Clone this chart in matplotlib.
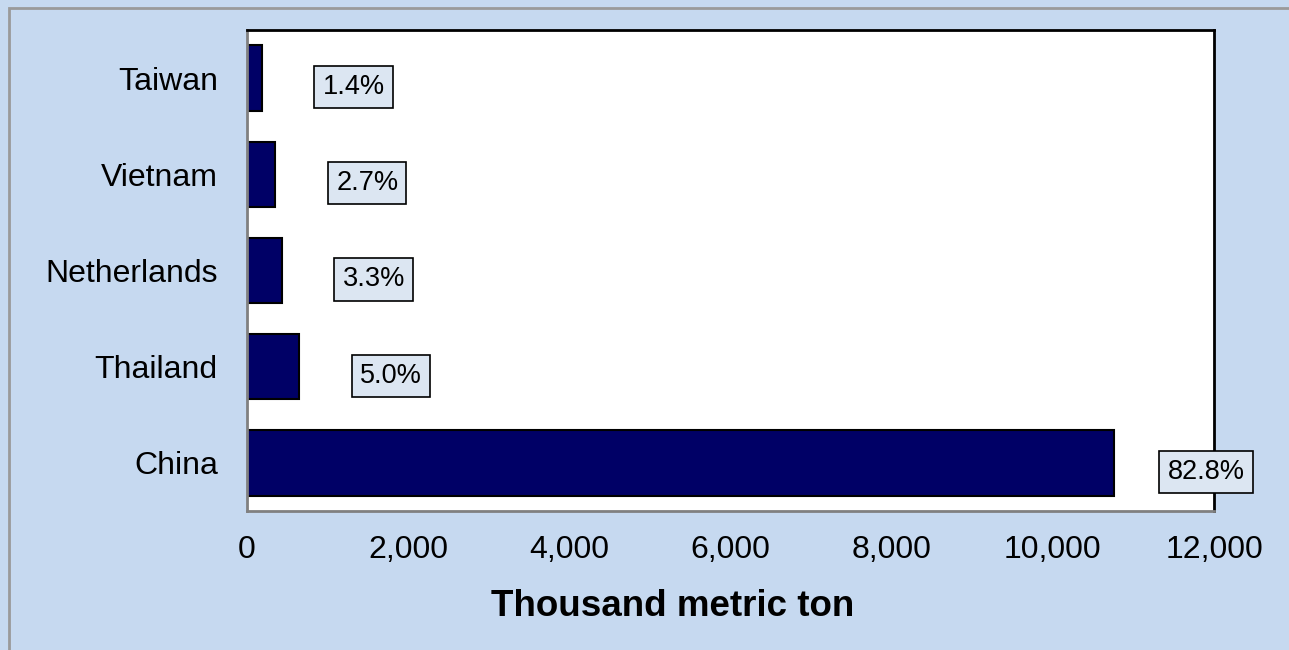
import matplotlib.pyplot as plt
from matplotlib.patches import Rectangle
from matplotlib.ticker import FuncFormatter

# data, bottom to top
countries = ["China", "Thailand", "Netherlands", "Vietnam", "Taiwan"]
volumes = [10760, 650, 430, 350, 180]
shares = ["82.8%", "5.0%", "3.3%", "2.7%", "1.4%"]
x_ticks = [0, 2000, 4000, 6000, 8000, 10000, 12000]

plt.rcParams['font.family'] = ['Liberation Sans', 'DejaVu Sans']

bg = "#C6D9F0"
fig = plt.figure(figsize=(12.89, 6.5), dpi=100)
fig.patch.set_facecolor(bg)

# grey frame round the chart area (only top/left edges show in the picture)
fig.patches.append(Rectangle((9 / 1289, -0.1), 1.2, (650 - 8) / 650 + 0.1,
                             transform=fig.transFigure, fill=False,
                             edgecolor="#9a9a9a", linewidth=2))

ax = fig.add_axes([247 / 1289, (650 - 511) / 650, 967 / 1289, 481 / 650])
ax.set_facecolor("white")

ypos = list(range(len(countries)))
ax.barh(ypos, volumes, height=0.68, color="#000066", edgecolor="black", linewidth=1.5)

for y, v, s in zip(ypos, volumes, shares):
    ax.annotate(s, xy=(v, y), xytext=(92, -9), textcoords="offset pixels",
                ha="center", va="center", fontsize=19.5,
                bbox=dict(boxstyle="square,pad=0.3", facecolor="#DCE6F2",
                          edgecolor="black", linewidth=1.2))

ax.set_xlim(0, 12000)
ax.set_ylim(-0.5, 4.5)
ax.set_xticks(x_ticks)
ax.xaxis.set_major_formatter(FuncFormatter(lambda v, p: "{:,.0f}".format(v)))
ax.set_yticks(ypos)
ax.set_yticklabels(countries)
ax.tick_params(axis="x", length=0, pad=17, labelsize=23)
ax.tick_params(axis="y", length=0, pad=21, labelsize=23)

for side in ["top", "right"]:
    ax.spines[side].set_color("black")
    ax.spines[side].set_linewidth(2)
for side in ["left", "bottom"]:
    ax.spines[side].set_color("#808080")
    ax.spines[side].set_linewidth(2)

fig.text(673 / 1289, (650 - 607) / 650, "Thousand metric ton", ha="center", va="center",
         fontsize=26.5, fontweight="bold")

plt.savefig("out.png", dpi=100, facecolor=bg)
